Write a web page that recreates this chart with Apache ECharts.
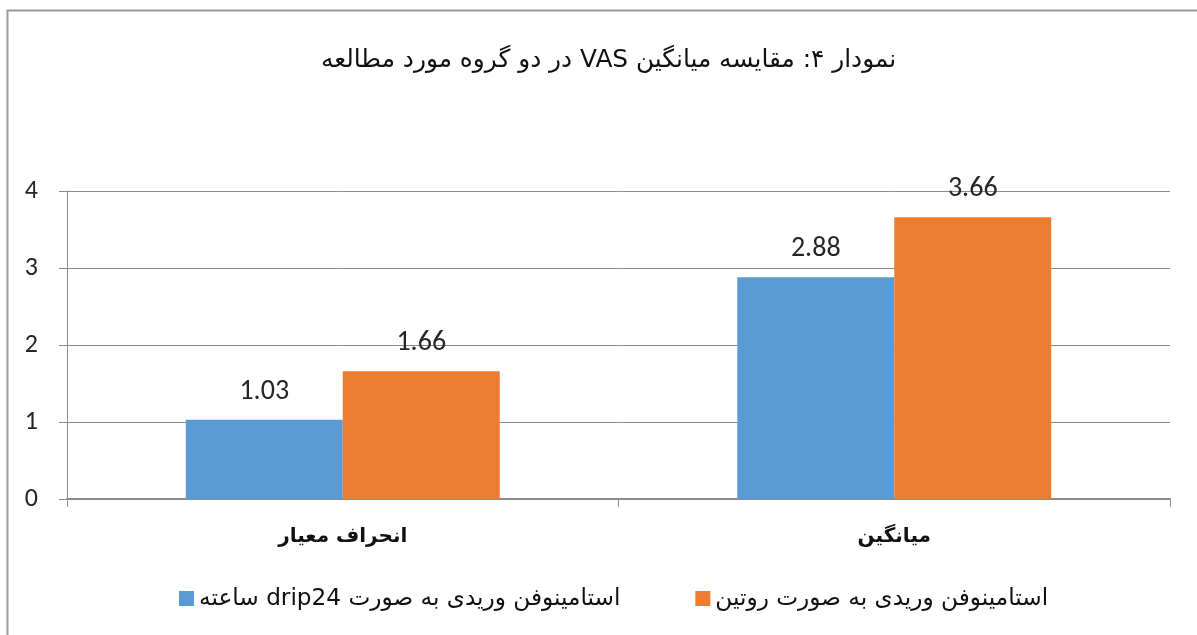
<!DOCTYPE html>
<html>
<head>
<meta charset="utf-8">
<script src="https://cdn.jsdelivr.net/npm/echarts@6/dist/echarts.min.js"></script>
<style>
html,body{margin:0;padding:0;background:#fff;}
#c{width:1197px;height:635px;}
</style>
</head>
<body>
<div id="c"></div>
<script>
var RLE = '\u202B', PDF = '\u202C';
var titleText = 'نمودار ۴: مقایسه میانگین VAS در دو گروه مورد مطالعه';
var categories = ['انحراف معیار', 'میانگین'];
var seriesNames = ['استامینوفن وریدی به صورت drip24 ساعته', 'استامینوفن وریدی به صورت روتین'];
var dripValues = [1.03, 2.88];
var routineValues = [1.66, 3.66];
var yTicks = [0, 1, 2, 3, 4];

function rtl(s){ return RLE + s + PDF; }

var chart = echarts.init(document.getElementById('c'), null, {renderer:'canvas'});
var fontFam = '"DejaVu Sans", "Noto Sans", sans-serif';
var numFam = 'Carlito, Calibri, "Open Sans", "DejaVu Sans", sans-serif';
var labelStyle = {
  show: true, position: 'top', distance: 14,
  fontSize: 28, color: '#262626', fontFamily: numFam
};
chart.setOption({
  animation: false,
  backgroundColor: '#fff',
  graphic: [{
    type: 'polyline', silent: true,
    shape: {points: [[7.5, 700], [7.5, 10.5], [1300, 10.5]]},
    style: {stroke: '#9a9a9a', lineWidth: 2, fill: null}
  }],
  title: {
    text: rtl(titleText), left: 316, top: 43,
    textStyle: {fontSize: 24.8, fontWeight: 'normal', color: '#111', fontFamily: fontFam}
  },
  legend: {
    bottom: 20, left: 174, itemGap: 75, itemWidth: 15, itemHeight: 15,
    icon: 'rect',
    data: seriesNames.map(function(n){ return {name: n}; }),
    formatter: function(n){ return rtl(n); },
    textStyle: {fontSize: 23.2, color: '#111', fontFamily: fontFam}
  },
  grid: {left: 67, right: 27, top: 191, bottom: 136, containLabel: false},
  xAxis: {
    type: 'category', data: categories.map(rtl),
    axisLine: {show: true, lineStyle: {color: '#8c8c8c', width: 2}},
    axisTick: {show: true, length: 8, lineStyle: {color: '#8c8c8c', width: 1}},
    axisLabel: {fontSize: 20, fontWeight: 'bold', color: '#111', margin: 28, fontFamily: fontFam}
  },
  yAxis: {
    type: 'value', min: yTicks[0], max: yTicks[yTicks.length-1], interval: 1,
    axisLine: {show: true, lineStyle: {color: '#8c8c8c', width: 1}},
    axisTick: {show: true, length: 8, lineStyle: {color: '#8c8c8c'}},
    splitLine: {show: true, lineStyle: {color: '#8c8c8c', width: 1}},
    axisLabel: {fontSize: 26, color: '#262626', margin: 29, fontFamily: numFam}
  },
  series: [
    {name: seriesNames[0], type: 'bar', data: dripValues, barWidth: 157, barGap: '0%',
     itemStyle: {color: '#5B9BD5'}, label: labelStyle},
    {name: seriesNames[1], type: 'bar', data: routineValues, barWidth: 157, barGap: '0%',
     itemStyle: {color: '#ED7D31'}, label: labelStyle}
  ]
});
</script>
</body>
</html>
